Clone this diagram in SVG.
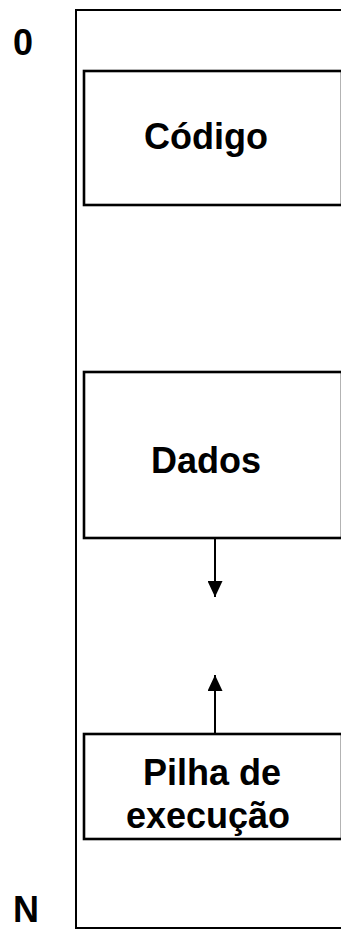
<svg xmlns="http://www.w3.org/2000/svg" width="341" height="930" viewBox="0 0 341 930">
<style>
.box{fill:#fff;stroke:#000;stroke-width:2.6}
.lbl{font-family:"Liberation Sans",Arial,sans-serif;font-weight:bold;font-size:36px;fill:#000;text-anchor:middle}
.conn{stroke:#000;stroke-width:2;fill:none}
</style>
<defs>
<marker id="ah" viewBox="0 0 16 15" refX="16" refY="7.5" markerWidth="16" markerHeight="15" markerUnits="userSpaceOnUse" orient="auto">
<path d="M0,0 L16,7.5 L0,15 Z" fill="#000"/>
</marker>
</defs>
<g id="memory">
<rect x="76" y="10" width="300" height="918" fill="#fff" stroke="#000" stroke-width="2"/>
</g>
<g id="label-0"><text class="lbl" x="23" y="55" font-size="34">0</text></g>
<g id="label-N"><text class="lbl" x="26" y="922" font-size="34">N</text></g>
<g id="codigo">
<rect class="box" x="84" y="71" width="258" height="134"/>
<text class="lbl" x="206" y="149">Código</text>
</g>
<g id="dados">
<rect class="box" x="84" y="372" width="258" height="166"/>
<text class="lbl" x="206" y="473">Dados</text>
</g>
<g id="pilha">
<rect class="box" x="84" y="734" width="258" height="105"/>
<text class="lbl" x="212" y="785">Pilha de</text>
<text class="lbl" x="208" y="828">execução</text>
</g>
<g id="connectors">
<line class="conn" x1="215" y1="538" x2="215" y2="597" marker-end="url(#ah)"/>
<line class="conn" x1="215" y1="734" x2="215" y2="675" marker-end="url(#ah)"/>
</g>
</svg>
